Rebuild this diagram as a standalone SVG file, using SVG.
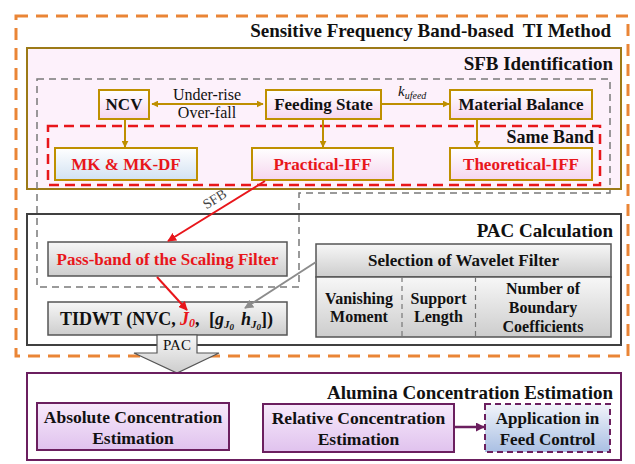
<svg xmlns="http://www.w3.org/2000/svg" width="635" height="464" viewBox="0 0 635 464" font-family="'Liberation Serif', 'Times New Roman', 'DejaVu Serif', serif">
<defs>
<linearGradient id="gPink" x1="0" y1="0" x2="0" y2="1"><stop offset="0" stop-color="#ffffff"/><stop offset="1" stop-color="#f6d6ef"/></linearGradient>
<linearGradient id="gBlue" x1="0" y1="0" x2="0" y2="1"><stop offset="0" stop-color="#ffffff"/><stop offset="1" stop-color="#d2e2f2"/></linearGradient>
<linearGradient id="gGray" x1="0" y1="0" x2="0" y2="1"><stop offset="0" stop-color="#f7f7f7"/><stop offset="1" stop-color="#cdcdcd"/></linearGradient>
<linearGradient id="gPurple" x1="0" y1="0" x2="0" y2="1"><stop offset="0" stop-color="#f7eafb"/><stop offset="1" stop-color="#e0c2ee"/></linearGradient>
<linearGradient id="gApp" x1="0" y1="0" x2="0" y2="1"><stop offset="0" stop-color="#f2f5fb"/><stop offset="1" stop-color="#a9bfe3"/></linearGradient>
<marker id="aGold" viewBox="0 0 10 10" refX="9" refY="5" markerWidth="7" markerHeight="7" orient="auto-start-reverse" markerUnits="userSpaceOnUse"><path d="M0,0 L10,5 L0,10 z" fill="#bf8f00"/></marker>
<marker id="aRed" viewBox="0 0 10 10" refX="9" refY="5" markerWidth="9" markerHeight="9" orient="auto" markerUnits="userSpaceOnUse"><path d="M0,0 L10,5 L0,10 z" fill="#e8161b"/></marker>
<marker id="aGray" viewBox="0 0 10 10" refX="9" refY="5" markerWidth="9" markerHeight="9" orient="auto" markerUnits="userSpaceOnUse"><path d="M0,0 L10,5 L0,10 z" fill="#8c8c8c"/></marker>
<marker id="aPurple" viewBox="0 0 10 10" refX="9" refY="5" markerWidth="9" markerHeight="9" orient="auto" markerUnits="userSpaceOnUse"><path d="M0,0 L10,5 L0,10 z" fill="#6b1f5f"/></marker>
</defs>
<style>
text{font-family:'Liberation Serif','Times New Roman','DejaVu Serif',serif;font-weight:bold;fill:#111}
.title{font-size:19px;text-anchor:end}
.n{font-size:17px;text-anchor:middle}
.r{fill:#e8161b}
.s{font-size:16px;text-anchor:middle}
.lbl{font-size:16px;font-weight:normal;text-anchor:middle}
.gold{fill:url(#gPink);stroke:#bf9000;stroke-width:2}
.goldB{fill:url(#gBlue);stroke:#bf9000;stroke-width:2}
.gray{fill:url(#gGray);stroke:#555;stroke-width:1.5}
.pur{fill:url(#gPurple);stroke:#6b1f5f;stroke-width:2}
</style>
<rect width="635" height="464" fill="#ffffff"/>

<!-- containers -->
<g id="outer">
<rect x="16" y="16" width="612" height="340" fill="none" stroke="#ea8536" stroke-width="3" stroke-dasharray="12,8"/>
<text class="title" x="611" y="37">Sensitive Frequency Band-based&#160; TI Method</text>
</g>
<g id="sfb-identification">
<rect x="27" y="48" width="594" height="141" fill="#fdf1fb" stroke="#9c7a17" stroke-width="2"/>
<text class="title" x="613" y="70">SFB Identification</text>
</g>
<g id="pac-calculation">
<rect x="27" y="214" width="594" height="131" fill="#ffffff" stroke="#404040" stroke-width="2"/>
<text class="title" x="613" y="237">PAC Calculation</text>
</g>
<g id="gray-dashed">
<path d="M37,79 H610 V193 H299 V287 H37 Z" fill="none" stroke="#7a7a7a" stroke-width="1.5" stroke-dasharray="7,5"/>
</g>
<g id="same-band">
<rect x="48" y="126" width="552" height="59" fill="none" stroke="#e8161b" stroke-width="2.5" stroke-dasharray="10,6"/>
<text class="title" x="594" y="143" style="font-size:18px">Same Band</text>
</g>

<!-- SFB nodes -->
<g id="ncv"><rect class="gold" x="99" y="90" width="50" height="29"/><text class="n" x="124" y="110">NCV</text></g>
<g id="feeding-state"><rect class="gold" x="266" y="90" width="115" height="29"/><text class="n" x="323.5" y="110">Feeding State</text></g>
<g id="material-balance"><rect class="gold" x="450" y="90" width="142" height="29"/><text class="n" x="521" y="110">Material Balance</text></g>
<g id="mk"><rect class="goldB" x="55" y="148" width="142" height="32"/><text class="n r" x="126" y="170">MK &amp; MK-DF</text></g>
<g id="practical-iff"><rect class="gold" x="252" y="148" width="141" height="32"/><text class="n r" x="322.5" y="170">Practical-IFF</text></g>
<g id="theoretical-iff"><rect class="gold" x="450" y="148" width="142" height="32"/><text class="n r" x="521" y="170">Theoretical-IFF</text></g>

<!-- PAC nodes -->
<g id="pass-band"><rect class="gray" x="48" y="242" width="239" height="34"/><text class="n r" x="167.5" y="265">Pass-band of the Scaling Filter</text></g>
<g id="wavelet-filter">
<rect class="gray" x="316" y="244" width="295" height="33"/>
<text class="n" x="463.5" y="266">Selection of Wavelet Filter</text>
<rect class="gray" x="316" y="277" width="295" height="60"/>
<line x1="402" y1="277" x2="402" y2="337" stroke="#777" stroke-width="1.2" stroke-dasharray="5,4"/>
<line x1="475.5" y1="277" x2="475.5" y2="337" stroke="#777" stroke-width="1.2" stroke-dasharray="5,4"/>
<text class="s" x="359" y="304">Vanishing</text><text class="s" x="359" y="322">Moment</text>
<text class="s" x="438.5" y="304">Support</text><text class="s" x="438.5" y="322">Length</text>
<text class="s" x="543" y="294">Number of</text><text class="s" x="543" y="313">Boundary</text><text class="s" x="543" y="332">Coefficients</text>
</g>
<g id="tidwt"><rect class="gray" x="48" y="302" width="239" height="33"/>
<text x="60" y="325" style="font-size:18px">TIDWT (NVC,<tspan x="180" class="r" style="font-style:italic">J<tspan dy="2" style="font-size:12px">0</tspan></tspan><tspan dy="-2">,</tspan><tspan x="209">[</tspan><tspan style="font-style:italic">g</tspan><tspan dy="3" style="font-size:11px;font-style:italic">J<tspan dy="2" style="font-size:9px">0</tspan></tspan><tspan x="241" dy="-5" style="font-style:italic">h</tspan><tspan dy="3" style="font-size:11px;font-style:italic">J<tspan dy="2" style="font-size:9px">0</tspan></tspan><tspan dy="-5">])</tspan></text>
</g>

<!-- PAC arrow -->
<g id="pac-arrow">
<path d="M157,335 H197 V353 H219 L177,373 L134,353 H157 Z" fill="url(#gGray)" stroke="#555" stroke-width="1.2"/>
<text x="177" y="350" style="font-size:15px;font-weight:normal;text-anchor:middle">PAC</text>
</g>

<!-- Alumina -->
<g id="alumina">
<rect x="27" y="373" width="594" height="87" fill="#ffffff" stroke="#6b1f5f" stroke-width="2"/>
<text class="title" x="613" y="399">Alumina Concentration Estimation</text>
</g>
<g id="absolute"><rect class="pur" x="37" y="403" width="192" height="47"/><text class="n" x="133" y="423" style="font-size:17.5px">Absolute Concentration</text><text class="n" x="133" y="444" style="font-size:17.5px">Estimation</text></g>
<g id="relative"><rect class="pur" x="263" y="404" width="191" height="48"/><text class="n" x="358.5" y="424" style="font-size:17.5px">Relative Concentration</text><text class="n" x="358.5" y="445" style="font-size:17.5px">Estimation</text></g>
<g id="application"><rect x="485" y="404" width="125" height="48" fill="url(#gApp)" stroke="#6b1f5f" stroke-width="2" stroke-dasharray="6,4"/><text class="n" x="547.5" y="424" style="font-size:17px">Application in</text><text class="n" x="547.5" y="445" style="font-size:17px">Feed Control</text></g>

<!-- connectors -->
<g id="connectors" fill="none">
<line x1="152" y1="104" x2="263" y2="104" stroke="#bf8f00" stroke-width="2" marker-start="url(#aGold)" marker-end="url(#aGold)"/>
<line x1="382" y1="104" x2="449" y2="104" stroke="#bf8f00" stroke-width="2" marker-end="url(#aGold)"/>
<line x1="125" y1="120" x2="125" y2="147" stroke="#bf8f00" stroke-width="2" marker-end="url(#aGold)"/>
<line x1="323" y1="120" x2="323" y2="147" stroke="#bf8f00" stroke-width="2" marker-end="url(#aGold)"/>
<line x1="477" y1="120" x2="477" y2="147" stroke="#bf8f00" stroke-width="2" marker-end="url(#aGold)"/>
<line x1="265" y1="181" x2="168" y2="241" stroke="#e8161b" stroke-width="2" marker-end="url(#aRed)"/>
<line x1="157" y1="277" x2="187" y2="310" stroke="#e8161b" stroke-width="2" marker-end="url(#aRed)"/>
<line x1="316" y1="262" x2="245" y2="308" stroke="#8c8c8c" stroke-width="2" marker-end="url(#aGray)"/>
<line x1="454" y1="427" x2="484" y2="427" stroke="#6b1f5f" stroke-width="2.5" marker-end="url(#aPurple)"/>
<text class="lbl" x="207" y="100">Under-rise</text>
<text class="lbl" x="207" y="118">Over-fall</text>
<text x="398" y="96" style="font-size:15px;font-weight:normal;font-style:italic">k<tspan dy="3" style="font-size:10px">ufeed</tspan></text>
<text class="lbl" x="0" y="0" transform="translate(217,203) rotate(-32)" style="font-size:14px;fill:#444">SFB</text>
</g>
</svg>
